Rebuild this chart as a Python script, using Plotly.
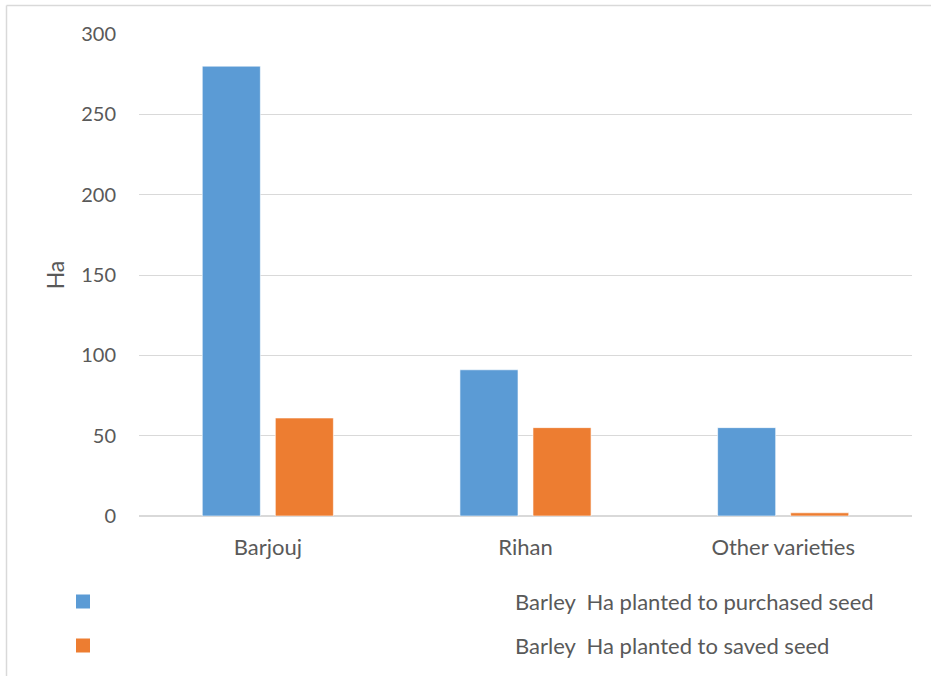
import plotly.graph_objects as go

categories = ["Barjouj", "Rihan", "Other varieties"]
purchased = [280, 91, 55]
saved = [61, 55, 2]
series_names = ["Barley  Ha planted to purchased seed", "Barley  Ha planted to saved seed"]
colors = ["#5B9BD5", "#ED7D31"]
y_ticks = [0, 50, 100, 150, 200, 250, 300]

W, H = 931, 676
# plot area in screen pixels: x 139..912, y 34..516
ML, MR, MT, MB = 139, 931 - 912, 34, 676 - 516
pw = W - ML - MR
ph = H - MT - MB

def px_x(x):
    return (x - ML) / pw

def px_y(y):
    return (H - MB - y) / ph

fig = go.Figure()
for name, vals, col in zip(series_names, [purchased, saved], colors):
    fig.add_trace(go.Bar(
        x=categories, y=vals, name=name,
        marker=dict(color=col, line=dict(color="rgba(255,255,255,0.6)", width=1)),
        showlegend=False,
    ))

font_family = "Lato, 'Open Sans', sans-serif"
text_col = "#595959"

shapes = [
    dict(type="line", xref="paper", yref="paper",
         x0=px_x(6.5), x1=px_x(945), y0=px_y(5.5), y1=px_y(5.5),
         line=dict(color="#d9d9d9", width=1.5)),
    dict(type="line", xref="paper", yref="paper",
         x0=px_x(6.5), x1=px_x(6.5), y0=px_y(5.5), y1=px_y(700),
         line=dict(color="#d9d9d9", width=1.5)),
]
annotations = []
legend_y = [601.5, 645.5]
for name, col, ly in zip(series_names, colors, legend_y):
    shapes.append(dict(type="rect", xref="paper", yref="paper",
                       x0=px_x(76), x1=px_x(90), y0=px_y(ly - 7), y1=px_y(ly + 7),
                       fillcolor=col, line=dict(width=0)))
    annotations.append(dict(xref="paper", yref="paper", x=px_x(513), y=px_y(ly),
                            xanchor="left", yanchor="middle", showarrow=False,
                            text=name, font=dict(size=22, color=text_col, family=font_family)))

fig.update_layout(
    width=W, height=H,
    margin=dict(l=ML, r=MR, t=MT, b=MB),
    paper_bgcolor="white", plot_bgcolor="white",
    barmode="group", bargap=0.433, bargroupgap=0.205,
    font=dict(family=font_family, size=20, color=text_col),
    shapes=shapes, annotations=annotations,
    showlegend=False,
)
fig.update_xaxes(showgrid=False, showline=False, ticks="", tickfont=dict(size=22, color=text_col),
                 ticklabelstandoff=16)
fig.update_yaxes(range=[0, 300], tickvals=y_ticks, showgrid=True, gridcolor="#d9d9d9", gridwidth=1,
                 zeroline=True, zerolinecolor="#d9d9d9", zerolinewidth=2,
                 tickfont=dict(size=20, color=text_col), ticklabelstandoff=22,
                 title=dict(text="Ha", font=dict(size=23, color=text_col), standoff=10))

fig.write_html("out.html",
               config={"displayModeBar": False},
               post_script="document.body.style.margin='0';document.body.style.overflow='hidden';")
